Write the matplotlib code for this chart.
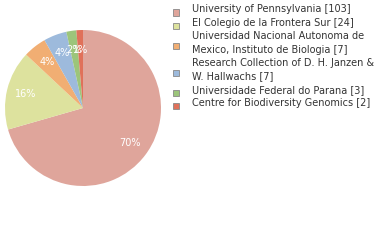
import matplotlib
matplotlib.use("Agg")
import matplotlib.pyplot as plt
from matplotlib.patches import Rectangle

plt.rcParams["font.family"] = ["DejaVu Sans"]

# データ
labels = ["University of Pennsylvania [103]",
          "El Colegio de la Frontera Sur [24]",
          "Universidad Nacional Autonoma de\nMexico, Instituto de Biologia [7]",
          "Research Collection of D. H. Janzen &\nW. Hallwachs [7]",
          "Universidade Federal do Parana [3]",
          "Centre for Biodiversity Genomics [2]"]
counts = [103, 24, 7, 7, 3, 2]
colors = ["#dfa59b", "#dde29e", "#f1ae73", "#9dbadc", "#9cc57b", "#e0715a"]

W, H = 380, 240
fig = plt.figure(figsize=(W / 100, H / 100), dpi=100)

# パイ (中心 83,108 / 半径 78 px)
cx, cy, r = 83, 108, 78
ax = fig.add_axes([(cx - r) / W, (H - cy - r) / H, 2 * r / W, 2 * r / H])


def pct(p):
    return f"{int(p)}%"


wedges, texts, autotexts = ax.pie(
    counts, colors=colors, startangle=90, counterclock=False,
    autopct=pct, pctdistance=0.75, radius=1.0,
    wedgeprops=dict(linewidth=0),
    textprops=dict(color="white", fontsize=7))
ax.set_xlim(-1, 1)
ax.set_ylim(-1, 1)
ax.set_aspect("auto")

# 凡例(手描き)
text_x = 192
sq_x, sq_s = 173, 6
line_h = 13.4
y = 9.5
for lab, col in zip(labels, colors):
    n = lab.count("\n") + 1
    top = y
    for i, line in enumerate(lab.split("\n")):
        fig.text(text_x / W, 1 - (y + i * line_h) / H, line,
                 fontsize=7, color="#333333", va="center", ha="left")
    mid = top + (n - 1) * line_h / 2 + 3
    fig.patches.append(Rectangle((sq_x / W, 1 - (mid + sq_s / 2) / H),
                                 sq_s / W, sq_s / H, facecolor=col,
                                 edgecolor="#888888", linewidth=0.6,
                                 transform=fig.transFigure, figure=fig))
    y += n * line_h

fig.savefig("out.png", dpi=100)
